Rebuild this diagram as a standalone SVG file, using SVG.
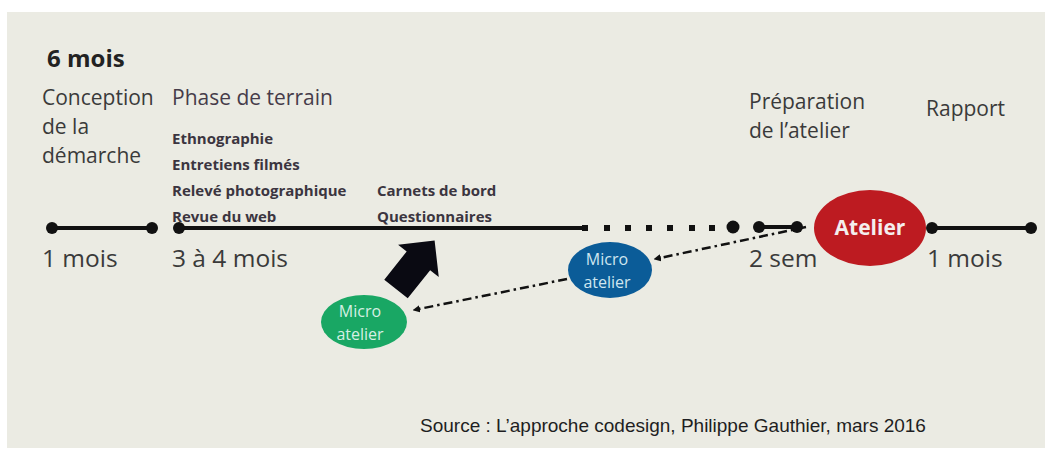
<svg xmlns="http://www.w3.org/2000/svg" width="1051" height="452" viewBox="0 0 1051 452">
<style>
.t{font-family:"Open Sans","Noto Sans",sans-serif;fill:#3a3a3a}
.h{font-size:21px}
.d{font-size:24.5px}
.b{font-family:"Open Sans","Noto Sans",sans-serif;font-weight:bold;font-size:15px;fill:#3b3540}
.ln{stroke:#111;stroke-width:4;fill:none}
.dot{fill:#111}
.dd{stroke:#111;stroke-width:2.5;fill:none;stroke-dasharray:9 4 2.5 4;marker-end:url(#ah)}
.mt{font-family:"Open Sans","Noto Sans",sans-serif;font-size:16px;fill:#cfe6f0;text-anchor:middle}
</style>
<defs>
<marker id="ah" viewBox="0 0 10 10" refX="8" refY="5" markerWidth="3" markerHeight="3" orient="auto" markerUnits="strokeWidth">
<path d="M0,0 L10,5 L0,10 z" fill="#111"/>
</marker>
</defs>
<rect width="1051" height="452" fill="#ffffff"/>
<rect x="7" y="12" width="1038" height="436" fill="#ebebe3"/>

<text class="t" x="47" y="67" style="font-weight:bold;font-size:24px;fill:#222">6 mois</text>

<g id="phase-conception">
<text class="t h" x="42" y="105">Conception</text>
<text class="t h" x="42" y="134">de la</text>
<text class="t h" x="42" y="163">démarche</text>
<text class="t d" x="42" y="267">1 mois</text>
</g>

<g id="phase-terrain">
<text class="t h" x="172" y="105" style="fill:#463c4a">Phase de terrain</text>
<text class="b" x="172" y="144">Ethnographie</text>
<text class="b" x="172" y="170">Entretiens filmés</text>
<text class="b" x="172" y="196">Relevé photographique</text>
<text class="b" x="172" y="222">Revue du web</text>
<text class="b" x="377" y="196">Carnets de bord</text>
<text class="b" x="377" y="222">Questionnaires</text>
<text class="t d" x="172" y="267">3 à 4 mois</text>
</g>

<g id="phase-preparation">
<text class="t h" x="749" y="109">Préparation</text>
<text class="t h" x="749" y="138">de l’atelier</text>
<text class="t d" x="749" y="267">2 sem</text>
</g>

<g id="phase-rapport">
<text class="t h" x="926" y="116">Rapport</text>
<text class="t d" x="927" y="267">1 mois</text>
</g>

<g id="timeline">
<line class="ln" x1="52" y1="228" x2="152" y2="228"/>
<circle class="dot" cx="52" cy="228" r="6"/>
<circle class="dot" cx="152" cy="228" r="6"/>
<line class="ln" x1="179" y1="228" x2="584" y2="228"/>
<circle class="dot" cx="179" cy="228" r="6"/>
<g class="dot">
<rect x="582" y="225" width="6" height="6"/>
<rect x="604" y="225" width="6" height="6"/>
<rect x="625" y="225" width="6" height="6"/>
<rect x="646" y="225" width="6" height="6"/>
<rect x="667" y="225" width="6" height="6"/>
<rect x="689" y="225" width="6" height="6"/>
<rect x="709" y="225" width="6" height="6"/>
</g>
<circle class="dot" cx="733" cy="227" r="6.5"/>
<line class="ln" x1="759" y1="227" x2="797" y2="227"/>
<circle class="dot" cx="759" cy="227" r="6"/>
<circle class="dot" cx="797" cy="227" r="6"/>
<line class="ln" x1="932" y1="228" x2="1031" y2="228"/>
<circle class="dot" cx="932" cy="228" r="6"/>
<circle class="dot" cx="1031" cy="228" r="6"/>
</g>

<g id="connectors">
<line class="dd" x1="806" y1="227" x2="655" y2="259"/>
<line class="dd" x1="567" y1="279" x2="414" y2="310"/>
<polygon fill="#0a0a12" transform="translate(396,289) rotate(-51.5)" points="0,-15 36,-15 36,-26 62,0 36,26 36,15 0,15"/>
</g>

<g id="atelier">
<ellipse cx="870" cy="228" rx="56" ry="38" fill="#bd1b21"/>
<text x="870" y="235" text-anchor="middle" style="font-family:'Open Sans','Noto Sans',sans-serif;font-weight:bold;font-size:21px;fill:#f4eeee">Atelier</text>
</g>

<g id="micro-atelier-2">
<ellipse cx="610" cy="270" rx="42" ry="28" fill="#0b5c98"/>
<text class="mt" x="607" y="265">Micro</text>
<text class="mt" x="607" y="288">atelier</text>
</g>

<g id="micro-atelier-1">
<ellipse cx="364" cy="322" rx="43" ry="27" fill="#19a764"/>
<text class="mt" x="360" y="317" style="fill:#d6efe3">Micro</text>
<text class="mt" x="360" y="340" style="fill:#d6efe3">atelier</text>
</g>

<text x="420" y="432" style="font-family:'Liberation Sans',Arial,sans-serif;font-size:19px;fill:#1e1e22">Source : L’approche codesign, Philippe Gauthier, mars 2016</text>
</svg>
